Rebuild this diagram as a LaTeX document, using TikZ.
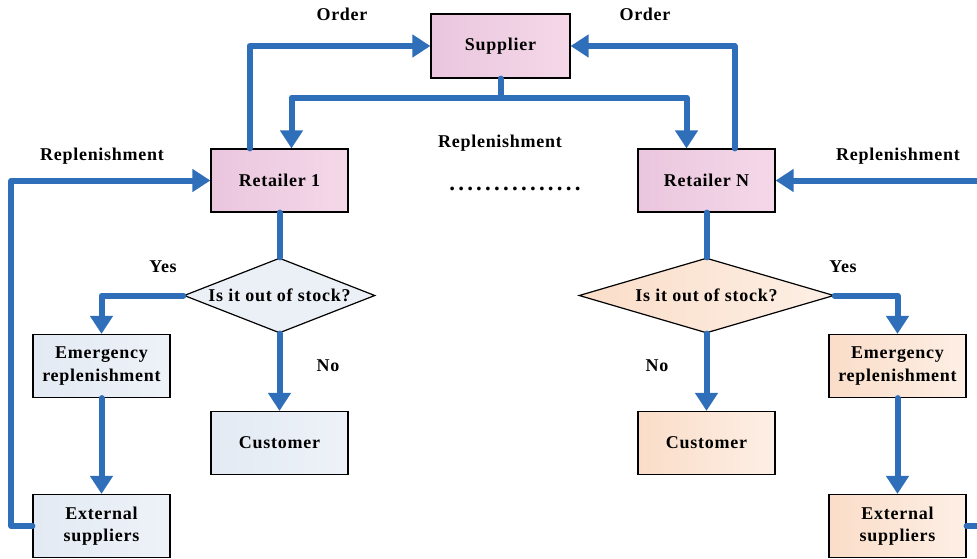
\documentclass[tikz,border=0pt]{standalone}
\usepackage{fontspec}
\setmainfont{Liberation Serif}[LetterSpace=4]
\usetikzlibrary{arrows.meta,shapes.geometric,calc}
\definecolor{lineblue}{HTML}{2F6FBA}
\definecolor{pinkL}{HTML}{EAC6DE}
\definecolor{pinkR}{HTML}{F4D8E8}
\definecolor{blueL}{HTML}{E3EAF3}
\definecolor{blueR}{HTML}{EEF2F8}
\definecolor{peachL}{HTML}{FADDC8}
\definecolor{peachR}{HTML}{FDEFE5}
\begin{document}
\begin{tikzpicture}[x=1pt,y=-1pt,
  txt/.style={font=\bfseries\fontsize{18}{22.5}\selectfont},
  box/.style={txt, draw=black, line width=1.2pt, minimum width=137pt, minimum height=63pt, inner sep=0pt, align=center},
  pinkbox/.style={box, left color=pinkL, right color=pinkR},
  bluebox/.style={box, left color=blueL, right color=blueR},
  peachbox/.style={box, left color=peachL, right color=peachR},
  decide/.style={txt, diamond, draw=black, line width=1.2pt, inner sep=0pt, shape aspect=3},
  conn/.style={draw=lineblue, line width=6pt, line join=round, line cap=round},
  arr/.style={conn, -{Triangle[width=22pt,length=18pt]}},
  lbl/.style={txt, inner sep=0pt}
]
\clip (0,0) rectangle (977,558);
\useasboundingbox (0,0) rectangle (977,558);

% nodes
\node[pinkbox, minimum width=139pt, minimum height=64pt] (sup) at (500.5,46) {Supplier};
\node[pinkbox] (r1) at (279.5,180.5) {Retailer 1};
\node[pinkbox] (rN) at (706.5,180.5) {Retailer N};
\node[decide, fill=blueR!70!blueL, minimum width=191pt, minimum height=75pt] (d1) at (279.5,295.5) {Is it out of stock?};
\node[decide, left color=peachL, right color=peachR, minimum width=255pt, minimum height=75pt] (dN) at (706.5,295.5) {Is it out of stock?};
\node[bluebox] (e1) at (101.5,366) {Emergency\\replenishment};
\node[bluebox] (c1) at (279.5,443) {Customer};
\node[bluebox] (x1) at (101.5,526) {External\\suppliers};
\node[peachbox] (eN) at (897.5,366) {Emergency\\replenishment};
\node[peachbox] (cN) at (706.5,443) {Customer};
\node[peachbox] (xN) at (897.5,526) {External\\suppliers};

% labels
\node[lbl] (o1) at (342,14) {Order};
\node[lbl] (oN) at (645,14) {Order};
\node[lbl] (rp1) at (102,156) {Replenishment};
\node[lbl] (rpm) at (500,143) {Replenishment};
\node[lbl] (rpN) at (898,156) {Replenishment};
\node[lbl] (y1) at (163,267) {Yes};
\node[lbl] (yN) at (843,267) {Yes};
\node[lbl] (n1) at (328,366) {No};
\node[lbl] (nN) at (657,366) {No};
\node[lbl, font=\bfseries\fontsize{23}{26}\selectfont] (dots) at (515,189) {\addfontfeatures{LetterSpace=14}...............};

% connectors
\coordinate (sj) at ($(sup.south)+(0,19)$);
\coordinate (extout) at (990,526);
\coordinate (inN) at (990,180.5);
\draw[arr] ([xshift=-30pt]r1.north) |- (sup.west);
\draw[arr] ([xshift=28pt]rN.north) |- (sup.east);
\draw[conn] (sup.south) -- (sj);
\draw[arr] (sj) -| ([xshift=12pt]r1.north);
\draw[arr] (sj) -| ([xshift=-20pt]rN.north);
\draw[conn] (r1.south) -- (d1.north);
\draw[arr] (d1.west) -| (e1.north);
\draw[arr] (d1.south) -- (c1.north);
\draw[arr] (e1.south) -- (x1.north);
\draw[arr] (x1.west) -- ++(-21,0) |- (r1.west);
\draw[conn] (rN.south) -- (dN.north);
\draw[arr] (dN.east) -| (eN.north);
\draw[arr] (dN.south) -- (cN.north);
\draw[arr] (eN.south) -- (xN.north);
\draw[conn] (xN.east) -- (extout);
\draw[arr] (inN) -- (rN.east);
\end{tikzpicture}
\end{document}
